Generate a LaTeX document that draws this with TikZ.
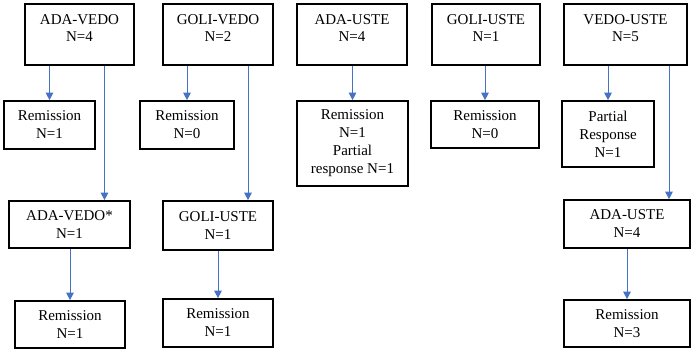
\documentclass[tikz,border=0pt]{standalone}
\usepackage{fontspec}
\setmainfont{Liberation Serif}
\usetikzlibrary{arrows.meta}
\definecolor{arrblue}{RGB}{68,114,196}
\begin{document}
\begin{tikzpicture}[x=1pt,y=-1pt,
  box/.style={draw=black,line width=1.7pt,rectangle,inner sep=0pt,align=center,
    font=\fontsize{15}{18}\selectfont},
  toptxt/.style={anchor=north,inner sep=0pt,align=center,font=\fontsize{15}{16.5}\selectfont},
  arr/.style={draw=arrblue,line width=1pt,-{Triangle[length=7.5pt,width=7.5pt]}}]
\useasboundingbox (0,0) rectangle (693,351);
% top row
\node[box,minimum width=109pt,minimum height=61pt] (av) at (79.5,34.5) {};
\node[box,minimum width=110pt,minimum height=61pt] (gv) at (218,34.5) {};
\node[box,minimum width=110pt,minimum height=61pt] (au) at (352,34.5) {};
\node[box,minimum width=108pt,minimum height=61pt] (gu) at (486,34.5) {};
\node[box,minimum width=123pt,minimum height=61pt] (vu) at (625.5,34.5) {};
\node[toptxt] (avt) at ([yshift=-11.5pt]av.north) {ADA-VEDO\\N=4};
\node[toptxt] (gvt) at ([yshift=-11.5pt]gv.north) {GOLI-VEDO\\N=2};
\node[toptxt] (aut) at ([yshift=-11.5pt]au.north) {ADA-USTE\\N=4};
\node[toptxt] (gut) at ([yshift=-11.5pt]gu.north) {GOLI-USTE\\N=1};
\node[toptxt] (vut) at ([yshift=-11.5pt]vu.north) {VEDO-USTE\\N=5};
% second row
\node[box,minimum width=91pt,minimum height=48pt] (r1) at (49.5,125) {Remission\\N=1};
\node[box,minimum width=94pt,minimum height=48pt] (r2) at (187,125) {Remission\\N=0};
\node[box,minimum width=111pt,minimum height=85pt] (r3) at (352.5,143.5) {Remission\\N=1\\Partial\\response N=1};
\node[box,minimum width=108pt,minimum height=47pt] (r4) at (485,124.5) {Remission\\N=0};
\node[box,minimum width=92pt,minimum height=66pt] (r5) at (608,134) {Partial\\Response\\N=1};
% third row
\node[box,minimum width=121pt,minimum height=47pt] (s1) at (69.5,224.5) {ADA-VEDO*\\N=1};
\node[box,minimum width=110pt,minimum height=49pt] (s2) at (218,225.5) {GOLI-USTE\\N=1};
\node[box,minimum width=126pt,minimum height=48pt] (s3) at (627,224) {ADA-USTE\\N=4};
% fourth row
\node[box,minimum width=110pt,minimum height=47pt] (t1) at (70,324.5) {Remission\\N=1};
\node[box,minimum width=110pt,minimum height=48pt] (t2) at (218,323) {Remission\\N=1};
\node[box,minimum width=126pt,minimum height=47pt] (t3) at (627,323.5) {Remission\\N=3};
% connectors
\draw[arr] (av.south -| r1.north) -- (r1.north);
\draw[arr] (gv.south -| r2.north) -- (r2.north);
\draw[arr] (au.south -| r3.north) -- (r3.north);
\draw[arr] (gu.south -| r4.north) -- (r4.north);
\draw[arr] (vu.south -| r5.north) -- (r5.north);
\draw[arr] ([xshift=35pt]s1.north |- av.south) -- ([xshift=35pt]s1.north);
\draw[arr] ([xshift=30pt]s2.north |- gv.south) -- ([xshift=30pt]s2.north);
\draw[arr] ([xshift=42pt]s3.north |- vu.south) -- ([xshift=42pt]s3.north);
\draw[arr] (s1.south -| t1.north) -- (t1.north);
\draw[arr] (s2.south -| t2.north) -- (t2.north);
\draw[arr] (s3.south -| t3.north) -- (t3.north);
\end{tikzpicture}
\end{document}
